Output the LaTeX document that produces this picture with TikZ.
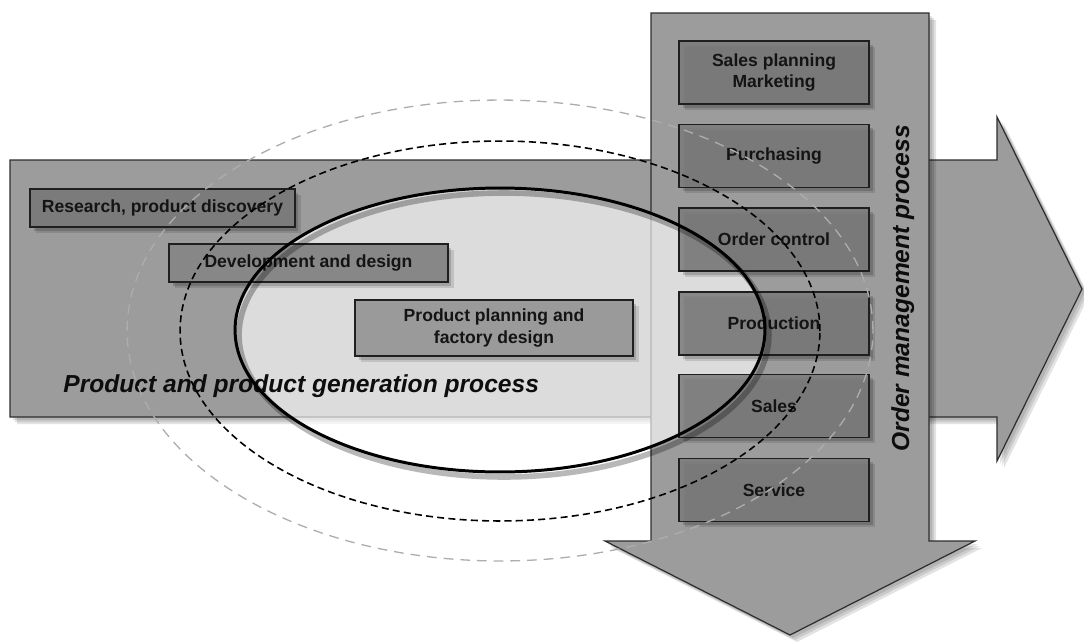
\documentclass[tikz,border=0pt]{standalone}
\usepackage{fontspec}
\setmainfont{Liberation Sans}
\definecolor{arrowgray}{HTML}{9C9C9C}
\definecolor{boxdark}{HTML}{7B7B7B}
\definecolor{boxmid}{HTML}{878787}
\definecolor{boxlight}{HTML}{9A9A9A}
\definecolor{dashgray}{HTML}{ADADAD}
\definecolor{edgegray}{HTML}{2E2E2E}
\begin{document}
\begin{tikzpicture}[x=0.02cm,y=-0.02cm,
  arrowshape/.style={fill=arrowgray, draw=edgegray, line width=0.7pt, line join=miter},
  softshadow/.style={fill=black, opacity=0.11},
  boxshape/.style={draw=black!88, line width=0.7pt, inner sep=0pt, align=center,
    font=\bfseries\fontsize{10}{12}\selectfont, text=black!92,
    preaction={fill=black, opacity=0.12, transform canvas={xshift=3.4pt, yshift=-3.4pt}},
    preaction={fill=black, opacity=0.16, transform canvas={xshift=2pt, yshift=-2pt}}},
  leftbox/.style={boxshape, minimum height=0.76cm},
  rightbox/.style={boxshape, fill=boxdark, fill opacity=0.85, text opacity=1, draw opacity=1,
    minimum width=3.8cm, minimum height=1.26cm},
  titletext/.style={font=\bfseries\itshape\fontsize{14}{16}\selectfont, inner sep=0pt, text=black!95},
  ringsolid/.style={draw=black, line width=1.7pt},
  ringshadow/.style={draw=black, opacity=0.28, line width=3.2pt},
  ringdash/.style={draw=black, line width=0.9pt, dash pattern=on 4pt off 2.4pt},
  ringgray/.style={draw=dashgray, line width=0.75pt, dash pattern=on 5.5pt off 4pt},
]
\useasboundingbox (0,0) rectangle (1084,643);
\def\harrowpath{(10,160) -- (997,160) -- (997,117) -- (1082,289) -- (997,461) -- (997,417) -- (10,417) -- cycle}
\def\varrowpath{(651,13) -- (929,13) -- (929,541) -- (975,541) -- (790,635) -- (605,541) -- (651,541) -- cycle}

% horizontal arrow (product generation process)
\foreach \o in {3,5,7} {\fill[softshadow, shift={(\o,\o)}] \harrowpath;}
\path[arrowshape] \harrowpath;

% vertical arrow (order management process)
\foreach \o in {3,5,7} {\fill[softshadow, shift={(\o,\o)}] \varrowpath;}
\path[arrowshape] \varrowpath;

% light interior of the solid ellipse
\begin{scope}
  \clip (500,330) ellipse [x radius=5.3cm, y radius=2.84cm];
  \fill[white, opacity=0.65] (0,0) rectangle (1084,643);
\end{scope}

% left boxes
\node[leftbox, fill=boxdark, minimum width=5.3cm] (research) at (162.5,208) {Research, product discovery};
\node[leftbox, fill=boxmid, minimum width=5.58cm] (devel) at (308.5,263) {Development and design};
\node[boxshape, fill=boxlight, minimum width=5.56cm, minimum height=1.12cm] (planning) at (494,328) {Product planning and\\factory design};

\node[titletext, anchor=base west] (pgtitle) at (63,392) {Product and product generation process};

% right boxes
\node[rightbox] (salesplan) at (774,72.5) {Sales planning\\Marketing};
\node[rightbox] (purchasing) at (774,156) {Purchasing};
\node[rightbox] (ordercontrol) at (774,239.5) {Order control};
\node[rightbox] (production) at (774,323.5) {Production};
\node[rightbox] (sales) at (774,406) {Sales};
\node[rightbox] (service) at (774,490) {Service};

\node[titletext, rotate=90, anchor=base west] (omtitle) at (909,452) {Order management process};

% ellipses
\draw[ringgray] (500,330.5) ellipse [x radius=7.46cm, y radius=4.61cm];
\draw[ringdash] (500,331) ellipse [x radius=6.4cm, y radius=3.8cm];
\draw[ringshadow] (504,335) ellipse [x radius=5.3cm, y radius=2.84cm];
\draw[ringsolid] (500,330) ellipse [x radius=5.3cm, y radius=2.84cm];
\end{tikzpicture}
\end{document}
